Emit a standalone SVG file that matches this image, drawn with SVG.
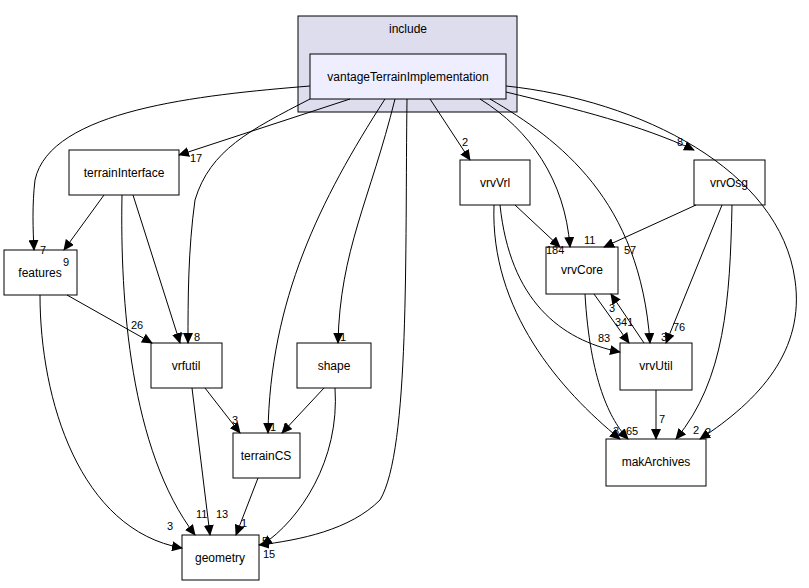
<svg xmlns="http://www.w3.org/2000/svg" width="809" height="588" viewBox="0 0 809 588">
<style>
text{font-family:"Liberation Sans",Arial,sans-serif;font-size:12px;fill:#000}
.n rect{fill:#fff;stroke:#000;stroke-width:1}
.n text{text-anchor:middle}
.e path{fill:none;stroke:#000;stroke-width:1}
.l text{font-size:11px}
</style>
<defs><marker id="a" markerWidth="11" markerHeight="10" refX="10" refY="5" orient="auto" markerUnits="userSpaceOnUse" viewBox="0 0 11 10"><path d="M0,0L11,5L0,10z" fill="#000"/></marker></defs>
<rect width="809" height="588" fill="#fff"/>
<g id="include"><rect x="298" y="16" width="219" height="96" fill="#ddddee" stroke="#000"/><text x="408" y="33" text-anchor="middle">include</text></g>
<g id="vantageTerrainImplementation" class="n"><rect x="310" y="54" width="196" height="45" style="fill:#eeeeff"/><text x="408" y="81">vantageTerrainImplementation</text></g>
<g id="terrainInterface" class="n"><rect x="69" y="150" width="110" height="45"/><text x="124" y="177">terrainInterface</text></g>
<g id="features" class="n"><rect x="4" y="250" width="73" height="45"/><text x="40" y="277">features</text></g>
<g id="vrfutil" class="n"><rect x="151" y="343" width="71" height="45"/><text x="186" y="370">vrfutil</text></g>
<g id="shape" class="n"><rect x="297" y="343" width="74" height="45"/><text x="334" y="370">shape</text></g>
<g id="terrainCS" class="n"><rect x="233" y="433" width="67" height="45"/><text x="266" y="460">terrainCS</text></g>
<g id="geometry" class="n"><rect x="182" y="535" width="77" height="45"/><text x="220" y="562">geometry</text></g>
<g id="vrvVrl" class="n"><rect x="460" y="160" width="70" height="45"/><text x="495" y="187">vrvVrl</text></g>
<g id="vrvOsg" class="n"><rect x="694" y="160" width="71" height="45"/><text x="729" y="187">vrvOsg</text></g>
<g id="vrvCore" class="n"><rect x="546" y="247" width="72" height="47"/><text x="582" y="274">vrvCore</text></g>
<g id="vrvUtil" class="n"><rect x="620" y="343" width="72" height="47"/><text x="656" y="370">vrvUtil</text></g>
<g id="makArchives" class="n"><rect x="606" y="439" width="100" height="47"/><text x="656" y="466">makArchives</text></g>
<g id="connectors" class="e">
<path d="M310,86C200,95 50,110 35,180C32,205 33,230 34,250" marker-end="url(#a)"/>
<path d="M350,99L179,155" marker-end="url(#a)"/>
<path d="M310,99C250,130 210,150 195,200C188,250 188,300 188,343" marker-end="url(#a)"/>
<path d="M395,99C370,200 340,250 338,343" marker-end="url(#a)"/>
<path d="M385,99C320,200 270,300 268,433" marker-end="url(#a)"/>
<path d="M407,99C405,250 410,450 380,500C350,530 300,540 259,545" marker-end="url(#a)"/>
<path d="M430,99L470,160" marker-end="url(#a)"/>
<path d="M480,99C530,130 565,180 570,247" marker-end="url(#a)"/>
<path d="M490,99C560,140 640,200 650,343" marker-end="url(#a)"/>
<path d="M506,92C580,110 640,125 694,150" marker-end="url(#a)"/>
<path d="M506,86C640,100 780,170 795,280C805,350 760,400 700,439" marker-end="url(#a)"/>
<path d="M104,195L64,250" marker-end="url(#a)"/>
<path d="M133,195L180,343" marker-end="url(#a)"/>
<path d="M122,195C120,300 130,450 195,535" marker-end="url(#a)"/>
<path d="M67,295L152,343" marker-end="url(#a)"/>
<path d="M40,295C40,400 80,530 182,548" marker-end="url(#a)"/>
<path d="M205,388L240,433" marker-end="url(#a)"/>
<path d="M192,388L210,535" marker-end="url(#a)"/>
<path d="M324,388L282,433" marker-end="url(#a)"/>
<path d="M335,388C340,460 300,520 262,545" marker-end="url(#a)"/>
<path d="M258,478L236,535" marker-end="url(#a)"/>
<path d="M515,205L560,247" marker-end="url(#a)"/>
<path d="M500,205C510,300 560,340 620,352" marker-end="url(#a)"/>
<path d="M494,205C490,310 560,390 620,439" marker-end="url(#a)"/>
<path d="M696,205L604,247" marker-end="url(#a)"/>
<path d="M722,205L666,343" marker-end="url(#a)"/>
<path d="M732,205C730,300 725,380 676,439" marker-end="url(#a)"/>
<path d="M594,294L629,343" marker-end="url(#a)"/>
<path d="M644,343L611,294" marker-end="url(#a)"/>
<path d="M585,294C590,380 610,420 628,439" marker-end="url(#a)"/>
<path d="M656,390L656,439" marker-end="url(#a)"/>
</g>
<g id="labels" class="l">
<text x="40" y="254">7</text><text x="190" y="162">17</text><text x="194" y="341">8</text>
<text x="340" y="341">1</text><text x="270" y="431">1</text><text x="262" y="545">5</text>
<text x="462" y="146">2</text><text x="584" y="244">11</text><text x="661" y="341">3</text>
<text x="677" y="146">8</text><text x="705" y="436">2</text><text x="63" y="266">9</text>
<text x="177" y="341">7</text><text x="196" y="518">11</text><text x="131" y="329">26</text>
<text x="167" y="530">3</text><text x="232" y="424">3</text><text x="216" y="518">13</text>
<text x="283" y="431">1</text><text x="263" y="558">15</text><text x="241" y="527">1</text>
<text x="546" y="254">184</text><text x="598" y="342">83</text><text x="613" y="435">3</text>
<text x="624" y="254">57</text><text x="673" y="331">76</text><text x="693" y="434">2</text>
<text x="609" y="312">3</text><text x="615" y="326">341</text><text x="626" y="435">65</text>
<text x="659" y="423">7</text>
</g>
</svg>
